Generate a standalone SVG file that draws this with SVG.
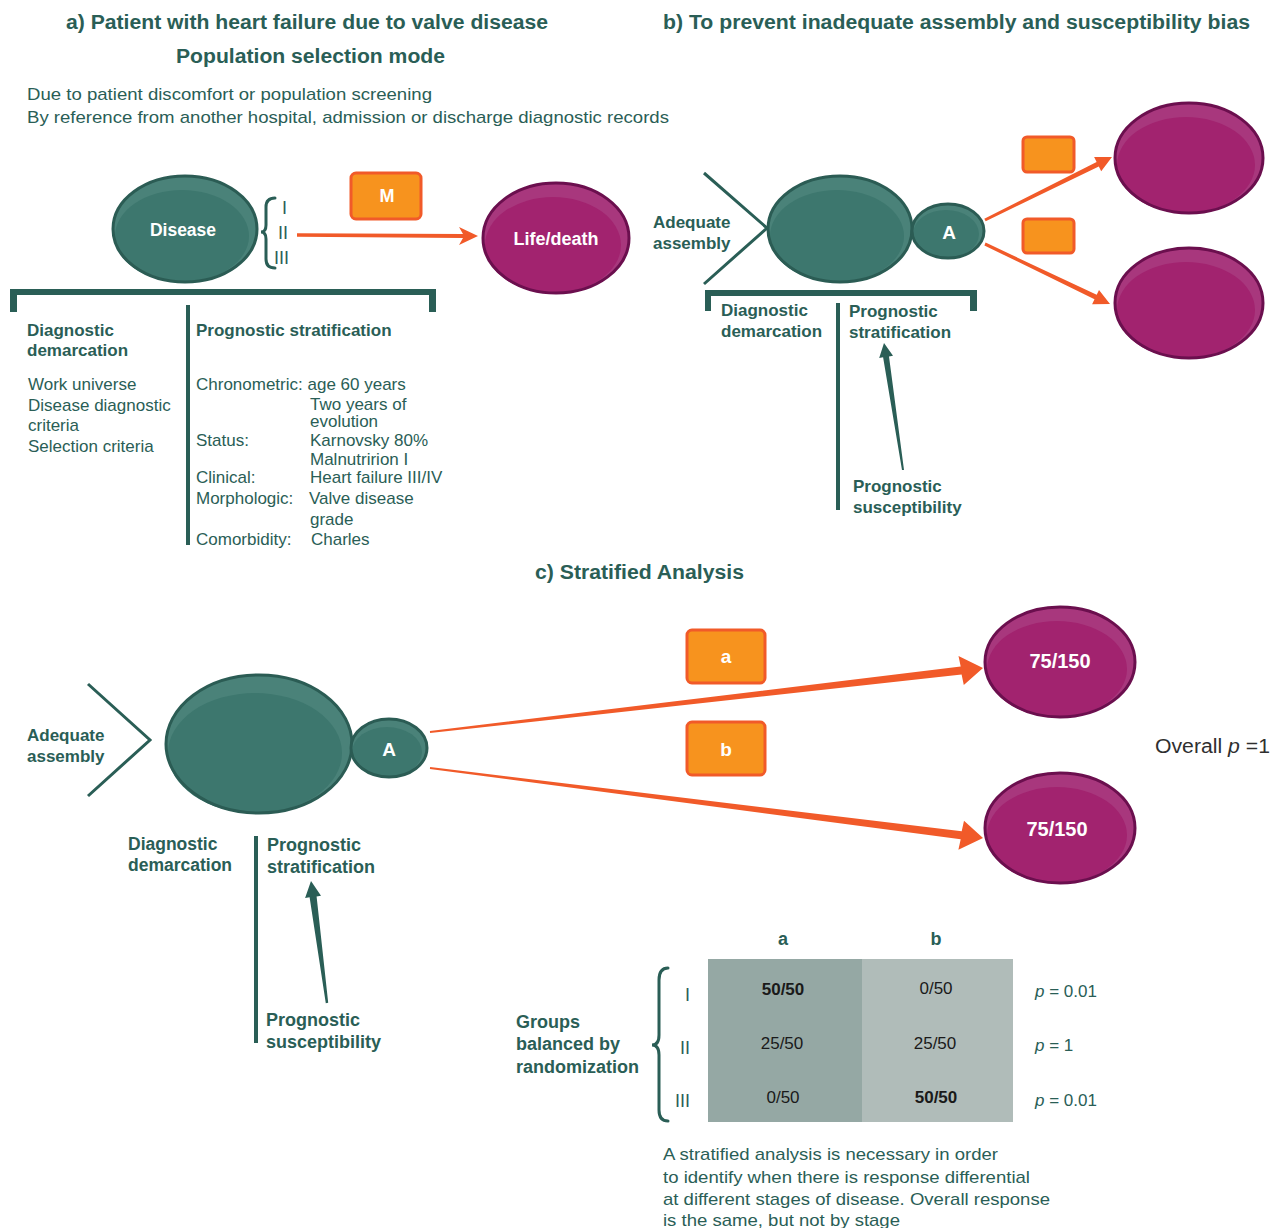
<svg xmlns="http://www.w3.org/2000/svg" width="1277" height="1228" viewBox="0 0 1277 1228">
<style>
text{font-family:"Liberation Sans",Arial,sans-serif;}
.h{fill:#2a5e56;font-weight:bold;font-size:20px;}
.lb{fill:#2a5e56;font-weight:bold;font-size:17px;}
.lb2{fill:#2a5e56;font-weight:bold;font-size:17.5px;}
.lb3{fill:#2a5e56;font-weight:bold;font-size:18px;}
.bd{fill:#2a5e56;font-size:17px;}
.in{fill:#2a5e56;font-size:17px;}
.w{fill:#ffffff;font-weight:bold;text-anchor:middle;}
.tealO{fill:#4a8279;}
.tealI{fill:#3d776e;}
.tealS{fill:none;stroke:#2b5c54;stroke-width:3;}
.magO{fill:#a8377d;}
.magI{fill:#a2236f;}
.magS{fill:none;stroke:#6b0f4e;stroke-width:3;}
.box{fill:#f7931e;stroke:#f15a29;stroke-width:3;}
.oarr{fill:#f15a29;}
.tarr{fill:#2a5e56;}
.bar{fill:#2a5e56;}
.brace{fill:none;stroke:#2a5e56;stroke-width:3;stroke-linecap:round;}
.chev{fill:none;stroke:#2a5e56;stroke-width:3;}
.num{fill:#1a1a1a;font-size:17px;text-anchor:middle;}
.rom{fill:#2a5e56;font-size:18px;}
</style>

<!-- Titles -->
<g id="titles">
<text class="h" x="66" y="29" textLength="482" lengthAdjust="spacingAndGlyphs">a) Patient with heart failure due to valve disease</text>
<text class="h" x="176" y="63" textLength="269" lengthAdjust="spacingAndGlyphs">Population selection mode</text>
<text class="in" x="27" y="100" textLength="405" lengthAdjust="spacingAndGlyphs">Due to patient discomfort or population screening</text>
<text class="in" x="27" y="123" textLength="642" lengthAdjust="spacingAndGlyphs">By reference from another hospital, admission or discharge diagnostic records</text>
<text class="h" x="663" y="29" textLength="587" lengthAdjust="spacingAndGlyphs">b) To prevent inadequate assembly and susceptibility bias</text>
<text class="h" x="535" y="579" textLength="209" lengthAdjust="spacingAndGlyphs">c) Stratified Analysis</text>
</g>

<!-- Section a -->
<g id="a-disease">
<ellipse class="tealO" cx="185" cy="229" rx="72" ry="53"/>
<ellipse class="tealI" cx="182" cy="236" rx="67" ry="46"/>
<ellipse class="tealS" cx="185" cy="229" rx="72" ry="53"/>
<text class="w" x="183" y="236" font-size="17.5">Disease</text>
</g>
<g id="a-stages">
<path class="brace" d="M275 198 Q266 198 266 207 L266 225 Q266 232 261 232 Q266 232 266 239 L266 259 Q266 268 275 268"/>
<text class="rom" x="282" y="214">I</text>
<text class="rom" x="278" y="239">II</text>
<text class="rom" x="274" y="264">III</text>
</g>
<g id="a-M">
<rect class="box" x="351" y="173" width="70" height="46" rx="5"/>
<text class="w" x="387" y="202" font-size="18">M</text>
</g>
<g id="a-lifedeath">
<ellipse class="magO" cx="556" cy="238" rx="73" ry="55"/>
<ellipse class="magI" cx="553" cy="245" rx="68" ry="48"/>
<ellipse class="magS" cx="556" cy="238" rx="73" ry="55"/>
<text class="w" x="556" y="245" font-size="18">Life/death</text>
</g>
<g id="a-bracket">
<rect class="bar" x="10" y="289" width="426" height="6"/>
<rect class="bar" x="10" y="289" width="7" height="23"/>
<rect class="bar" x="429" y="289" width="7" height="23"/>
<rect class="bar" x="186" y="305" width="4" height="240"/>
</g>
<g id="a-diag">
<text class="lb" x="27" y="336">Diagnostic</text>
<text class="lb" x="27" y="356">demarcation</text>
<text class="bd" x="28" y="390">Work universe</text>
<text class="bd" x="28" y="411">Disease diagnostic</text>
<text class="bd" x="28" y="431">criteria</text>
<text class="bd" x="28" y="452">Selection criteria</text>
</g>
<g id="a-prog">
<text class="lb" x="196" y="336">Prognostic stratification</text>
<text class="bd" x="196" y="390">Chronometric: age 60 years</text>
<text class="bd" x="310" y="410">Two years of</text>
<text class="bd" x="310" y="427">evolution</text>
<text class="bd" x="196" y="446">Status:</text>
<text class="bd" x="310" y="446">Karnovsky 80%</text>
<text class="bd" x="310" y="465">Malnutririon I</text>
<text class="bd" x="196" y="483">Clinical:</text>
<text class="bd" x="310" y="483">Heart failure III/IV</text>
<text class="bd" x="196" y="504">Morphologic:</text>
<text class="bd" x="309" y="504">Valve disease</text>
<text class="bd" x="310" y="525">grade</text>
<text class="bd" x="196" y="545">Comorbidity:</text>
<text class="bd" x="311" y="545">Charles</text>
</g>

<!-- Section b -->
<g id="b-assembly">
<path class="chev" d="M704 173 L767 228 L704 284"/>
<text class="lb" x="653" y="228">Adequate</text>
<text class="lb" x="653" y="249">assembly</text>
</g>
<g id="b-disease">
<ellipse class="tealO" cx="840" cy="229" rx="72" ry="53"/>
<ellipse class="tealI" cx="837" cy="236" rx="67" ry="46"/>
<ellipse class="tealS" cx="840" cy="229" rx="72" ry="53"/>
</g>
<g id="b-A">
<ellipse class="tealO" cx="948" cy="231" rx="36" ry="27"/>
<ellipse class="tealI" cx="946" cy="234" rx="33" ry="24"/>
<ellipse class="tealS" cx="948" cy="231" rx="36" ry="27" stroke-width="2"/>
<text class="w" x="949" y="239" font-size="19">A</text>
</g>
<g id="b-box1"><rect class="box" x="1023" y="137" width="51" height="35" rx="4"/></g>
<g id="b-box2"><rect class="box" x="1023" y="219" width="51" height="34" rx="4"/></g>
<g id="b-out1">
<ellipse class="magO" cx="1189" cy="158" rx="74" ry="55"/>
<ellipse class="magI" cx="1186" cy="165" rx="69" ry="48"/>
<ellipse class="magS" cx="1189" cy="158" rx="74" ry="55"/>
</g>
<g id="b-out2">
<ellipse class="magO" cx="1189" cy="303" rx="74" ry="55"/>
<ellipse class="magI" cx="1186" cy="310" rx="69" ry="48"/>
<ellipse class="magS" cx="1189" cy="303" rx="74" ry="55"/>
</g>
<g id="b-bracket">
<rect class="bar" x="705" y="290" width="272" height="6"/>
<rect class="bar" x="705" y="290" width="6" height="21"/>
<rect class="bar" x="970" y="290" width="7" height="21"/>
<rect class="bar" x="836" y="303" width="4" height="207"/>
</g>
<g id="b-labels">
<text class="lb" x="721" y="316">Diagnostic</text>
<text class="lb" x="721" y="337">demarcation</text>
<text class="lb" x="849" y="317">Prognostic</text>
<text class="lb" x="849" y="338">stratification</text>
<text class="lb" x="853" y="492">Prognostic</text>
<text class="lb" x="853" y="513">susceptibility</text>
</g>

<!-- Section c -->
<g id="c-assembly">
<path class="chev" d="M88 684 L150 740 L88 796"/>
<text class="lb" x="27" y="741">Adequate</text>
<text class="lb" x="27" y="762">assembly</text>
</g>
<g id="c-disease">
<ellipse class="tealO" cx="259" cy="744" rx="93" ry="69"/>
<ellipse class="tealI" cx="255" cy="753" rx="87" ry="60"/>
<ellipse class="tealS" cx="259" cy="744" rx="93" ry="69"/>
</g>
<g id="c-A">
<ellipse class="tealO" cx="389" cy="748" rx="38" ry="29"/>
<ellipse class="tealI" cx="387" cy="752" rx="35" ry="25"/>
<ellipse class="tealS" cx="389" cy="748" rx="38" ry="29" stroke-width="2"/>
<text class="w" x="389" y="756" font-size="19">A</text>
</g>
<g id="c-box-a">
<rect class="box" x="687" y="630" width="78" height="53" rx="5"/>
<text class="w" x="726" y="663" font-size="19">a</text>
</g>
<g id="c-box-b">
<rect class="box" x="687" y="722" width="78" height="53" rx="5"/>
<text class="w" x="726" y="756" font-size="19">b</text>
</g>
<g id="c-out1">
<ellipse class="magO" cx="1060" cy="662" rx="75" ry="55"/>
<ellipse class="magI" cx="1057" cy="669" rx="70" ry="48"/>
<ellipse class="magS" cx="1060" cy="662" rx="75" ry="55"/>
<text class="w" x="1060" y="668" font-size="20">75/150</text>
</g>
<g id="c-out2">
<ellipse class="magO" cx="1060" cy="828" rx="75" ry="55"/>
<ellipse class="magI" cx="1057" cy="835" rx="70" ry="48"/>
<ellipse class="magS" cx="1060" cy="828" rx="75" ry="55"/>
<text class="w" x="1057" y="836" font-size="20">75/150</text>
</g>
<g id="c-overall">
<text x="1155" y="753" font-size="20" fill="#2f2f2f" textLength="115" lengthAdjust="spacingAndGlyphs">Overall <tspan font-style="italic">p</tspan> =1</text>
</g>
<g id="c-divider">
<rect class="bar" x="254" y="836" width="4" height="207"/>
</g>
<g id="c-labels">
<text class="lb2" x="128" y="850">Diagnostic</text>
<text class="lb2" x="128" y="871">demarcation</text>
<text class="lb3" x="267" y="851">Prognostic</text>
<text class="lb3" x="267" y="873">stratification</text>
<text class="lb3" x="266" y="1026">Prognostic</text>
<text class="lb3" x="266" y="1048">susceptibility</text>
</g>

<!-- Table -->
<g id="table">
<text class="lb3" x="783" y="945" text-anchor="middle">a</text>
<text class="lb3" x="936" y="945" text-anchor="middle">b</text>
<rect x="708" y="959" width="154" height="163" fill="#95a8a4"/>
<rect x="862" y="959" width="151" height="163" fill="#b0bcb9"/>
<text class="num" x="783" y="995" font-weight="bold">50/50</text>
<text class="num" x="936" y="994">0/50</text>
<text class="num" x="782" y="1049">25/50</text>
<text class="num" x="935" y="1049">25/50</text>
<text class="num" x="783" y="1103">0/50</text>
<text class="num" x="936" y="1103" font-weight="bold">50/50</text>
<text class="rom" x="685" y="1001" font-size="16">I</text>
<text class="rom" x="680" y="1054" font-size="16">II</text>
<text class="rom" x="675" y="1107" font-size="16">III</text>
<path class="brace" stroke-width="4" d="M668 968 Q659 968 659 980 L659 1035 Q659 1045 652 1045 Q659 1045 659 1055 L659 1110 Q659 1121 668 1121"/>
<text class="lb3" x="516" y="1028">Groups</text>
<text class="lb3" x="516" y="1050">balanced by</text>
<text class="lb3" x="516" y="1073">randomization</text>
<text class="in" x="1035" y="997"><tspan font-style="italic">p</tspan> = 0.01</text>
<text class="in" x="1035" y="1051"><tspan font-style="italic">p</tspan> = 1</text>
<text class="in" x="1035" y="1106"><tspan font-style="italic">p</tspan> = 0.01</text>
</g>
<g id="c-note">
<text class="in" x="663" y="1160" textLength="335" lengthAdjust="spacingAndGlyphs">A stratified analysis is necessary in order</text>
<text class="in" x="663" y="1183" textLength="367" lengthAdjust="spacingAndGlyphs">to identify when there is response differential</text>
<text class="in" x="663" y="1205" textLength="387" lengthAdjust="spacingAndGlyphs">at different stages of disease. Overall response</text>
<text class="in" x="663" y="1226" textLength="237" lengthAdjust="spacingAndGlyphs">is the same, but not by stage</text>
</g>

<!-- Connectors -->
<g id="connectors">
<polygon class="oarr" points="297,233.3 463,234 459,227 478,236 459,245 463,238 297,236.7"/>
<polygon class="oarr" points="984.3,218.7 1096.6,161.9 1094.1,156.9 1112,157 1101.2,171.3 1098.8,166.4 985.7,221.3"/>
<polygon class="oarr" points="985.6,242.6 1096.7,294.8 1099,289.9 1110,304 1092.1,304.3 1094.5,299.3 984.4,245.4"/>
<polygon class="oarr" points="429.9,731 960.7,666.6 958.5,656 983,668 963.8,685 961.6,674.5 430.1,733"/>
<polygon class="oarr" points="430.1,767 961.7,831.3 964,820.7 983,838 958.4,849.7 960.7,839.2 429.9,769"/>
<polygon class="tarr" points="904,469.9 889,356.4 893,355.8 884,343 879.2,357.9 883.1,357.3 902,470.1"/>
<polygon class="tarr" points="328.2,1002.8 316.6,896.4 321,895.8 311,881 305.1,897.9 309.6,897.3 325.8,1003.2"/>
</g>
</svg>
